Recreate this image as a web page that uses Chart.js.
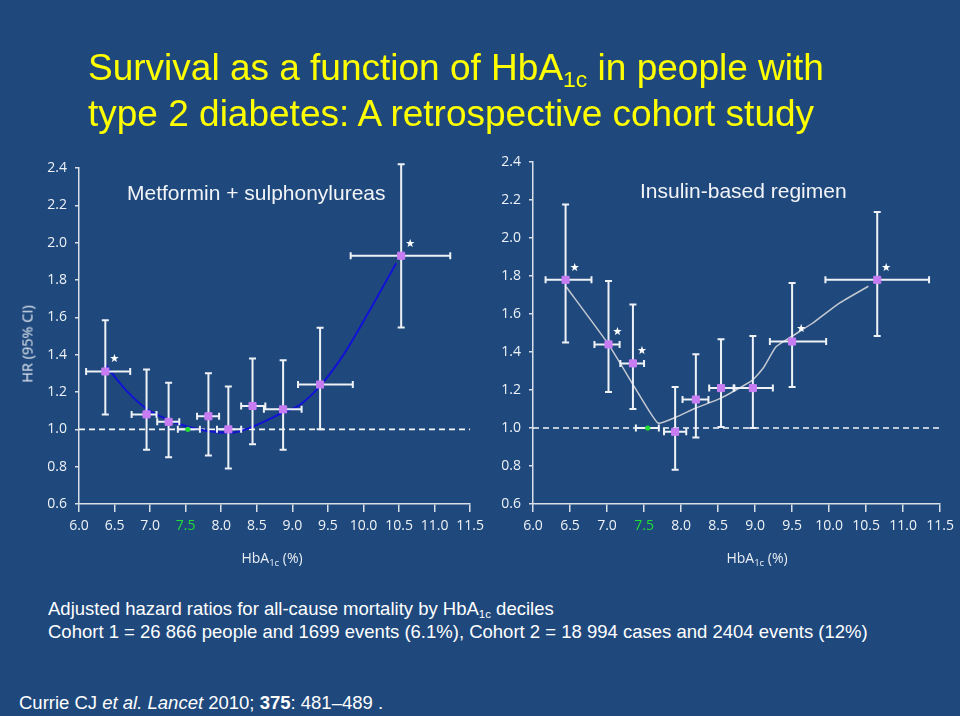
<!DOCTYPE html>
<html><head><meta charset="utf-8">
<script src="https://cdn.jsdelivr.net/npm/chart.js@4.4.1/dist/chart.umd.min.js"></script>
<style>
html,body{margin:0;padding:0;}
body{width:960px;height:716px;background:#1f497d;position:relative;overflow:hidden;font-family:"Liberation Sans",Arial,sans-serif;}
.abs{position:absolute;white-space:nowrap;}
canvas{position:absolute;top:0;}
#title{left:88px;top:47px;font-size:37px;line-height:42px;color:#ffff00;}
.sub{font-size:0.62em;position:relative;top:0.32em;}
.ptitle{font-size:21px;line-height:24px;color:#f2f4f7;}
.axt{font-family:"Open Sans",sans-serif;font-size:14px;color:#e8edf3;transform:translate(-50%,-50%);}
.axt .sub{font-size:0.68em;top:0.3em;}
#hr{left:27px;top:344px;font-family:"Open Sans",sans-serif;font-size:14.5px;color:#e8edf3;transform:translate(-50%,-50%) rotate(-90deg);}
.foot{left:48px;font-size:18.5px;line-height:23px;color:#ffffff;}
.foot .sub{font-size:0.62em;top:0.3em;}
#cite{left:19px;top:691px;font-size:18.5px;line-height:23px;color:#ffffff;}
</style></head>
<body>
<canvas id="left" width="490" height="560" style="left:0;width:490px;height:560px;"></canvas>
<canvas id="right" width="506" height="560" style="left:454px;width:506px;height:560px;"></canvas>

<div id="title" class="abs">Survival as a function of HbA<span class="sub">1c</span> in people with<br>type 2 diabetes: A retrospective cohort study</div>
<div class="abs ptitle" style="left:127px;top:181px;">Metformin + sulphonylureas</div>
<div class="abs ptitle" style="left:640px;top:179px;">Insulin-based regimen</div>
<div id="hr" class="abs">HR (95% CI)</div>
<div class="abs axt" style="left:272px;top:557px;">HbA<span class="sub">1c</span> (%)</div>
<div class="abs axt" style="left:757px;top:557px;">HbA<span class="sub">1c</span> (%)</div>
<div class="abs foot" style="top:597px;">Adjusted hazard ratios for all-cause mortality by HbA<span class="sub">1c</span> deciles</div>
<div class="abs foot" style="top:620px;">Cohort 1 = 26 866 people and 1699 events (6.1%), Cohort 2 = 18 994 cases and 2404 events (12%)</div>
<div id="cite" class="abs">Currie CJ <i>et al.</i> <i>Lancet</i> 2010; <b>375</b>: 481–489 .</div>

<script>
// ---- axes ----
const xTicks = [6.0, 6.5, 7.0, 7.5, 8.0, 8.5, 9.0, 9.5, 10.0, 10.5, 11.0, 11.5];
const yTicks = [0.6, 0.8, 1.0, 1.2, 1.4, 1.6, 1.8, 2.0, 2.2, 2.4];
const refHR = 1.0;          // dashed reference line
const refTick = 7.5;        // highlighted (reference) HbA1c tick

// ---- Metformin + sulphonylureas (deciles) ----
const msHbA1c  = [6.37, 6.95, 7.26, 7.53, 7.82, 8.10, 8.44, 8.87, 9.39, 10.53];
const msHR     = [1.31, 1.08, 1.04, 1.00, 1.07, 1.00, 1.125, 1.107, 1.24, 1.93];
const msHbLow  = [6.10, 6.74, 7.10, 7.39, 7.66, 7.94, 8.28, 8.60, 9.08, 9.82];
const msHbHigh = [6.72, 7.09, 7.41, 7.70, 7.97, 8.28, 8.62, 9.13, 9.85, 11.22];
const msCILow  = [1.08, 0.89, 0.85, null, 0.86, 0.79, 0.92, 0.89, 1.00, 1.545];
const msCIHigh = [1.585, 1.32, 1.25, null, 1.30, 1.23, 1.38, 1.37, 1.544, 2.42];
const msSig    = [1, 0, 0, 0, 0, 0, 0, 0, 0, 1];
const msCurveX = [6.36, 6.66, 6.95, 7.26, 7.53, 7.82, 8.14, 8.44, 8.87, 9.10, 9.40, 9.72, 10.05, 10.46];
const msCurveY = [1.35, 1.21, 1.11, 1.05, 1.014, 0.99, 0.982, 1.014, 1.09, 1.13, 1.237, 1.40, 1.612, 1.89];

// ---- Insulin-based regimen (deciles) ----
const insHbA1c  = [6.44, 7.02, 7.35, 7.55, 7.92, 8.20, 8.54, 8.97, 9.50, 10.65];
const insHR     = [1.78, 1.44, 1.34, 1.00, 0.98, 1.15, 1.21, 1.21, 1.455, 1.78];
const insHbLow  = [6.17, 6.83, 7.18, 7.39, 7.77, 8.02, 8.38, 8.71, 9.20, 9.95];
const insHbHigh = [6.79, 7.17, 7.50, 7.70, 8.07, 8.37, 8.72, 9.24, 9.96, 11.35];
const insCILow  = [1.45, 1.19, 1.10, null, 0.78, 0.95, 1.005, 1.00, 1.216, 1.484];
const insCIHigh = [2.176, 1.774, 1.65, null, 1.216, 1.388, 1.467, 1.484, 1.763, 2.137];
const insSig    = [1, 1, 1, 0, 0, 0, 0, 0, 1, 1];
const insCurveX = [6.45, 7.02, 7.44, 7.69, 7.92, 8.20, 8.54, 8.96, 9.12, 9.28, 9.50, 9.77, 10.13, 10.53];
const insCurveY = [1.742, 1.44, 1.172, 1.026, 1.055, 1.105, 1.157, 1.251, 1.321, 1.426, 1.483, 1.55, 1.655, 1.746];

const BAR = '#eef2f7', AXIS = '#d8dfe8', LABEL = '#eef2f6', GREEN = '#22dd33', PURPLE = '#c77cf2';

function build(id, d, o) {
  const main = [], ref = [];
  d.hb.forEach((x, i) => { (d.ciLo[i] === null ? ref : main).push({x: x, y: d.hr[i]}); });
  const curve = d.cx.map((x, i) => ({x: x, y: d.cy[i]}));
  const refLine = [{x: xTicks[0], y: refHR}, {x: xTicks[xTicks.length - 1], y: refHR}];

  const errPlugin = {
    id: 'err_' + id,
    afterDatasetDraw(chart, args) {
      if (args.index !== 2) return;
      const xs = chart.scales.x, ys = chart.scales.y, c = chart.ctx;
      c.save();
      c.strokeStyle = BAR; c.lineWidth = 2; c.lineCap = 'butt';
      d.hb.forEach((x, i) => {
        const px = xs.getPixelForValue(x), py = ys.getPixelForValue(d.hr[i]);
        const l = xs.getPixelForValue(d.hbLo[i]), r = xs.getPixelForValue(d.hbHi[i]);
        c.beginPath();
        c.moveTo(l, py); c.lineTo(r, py);
        c.moveTo(l, py - 3.5); c.lineTo(l, py + 3.5);
        c.moveTo(r, py - 3.5); c.lineTo(r, py + 3.5);
        if (d.ciLo[i] !== null) {
          const t = ys.getPixelForValue(d.ciHi[i]), b = ys.getPixelForValue(d.ciLo[i]);
          c.moveTo(px, t); c.lineTo(px, b);
          c.moveTo(px - 3.5, t); c.lineTo(px + 3.5, t);
          c.moveTo(px - 3.5, b); c.lineTo(px + 3.5, b);
        }
        c.stroke();
      });
      c.restore();
    },
    afterDatasetsDraw(chart) {
      const xs = chart.scales.x, ys = chart.scales.y, c = chart.ctx;
      c.save();
      c.fillStyle = '#ffffff'; c.font = '11px "DejaVu Sans"';
      c.textAlign = 'center'; c.textBaseline = 'middle';
      d.hb.forEach((x, i) => {
        if (!d.sig[i]) return;
        c.fillText('\u2605', xs.getPixelForValue(x) + 9, ys.getPixelForValue(d.hr[i]) - 12);
      });
      c.restore();
    }
  };

  return new Chart(document.getElementById(id), {
    type: 'line',
    data: {
      datasets: [
        {data: main, showLine: false, pointStyle: 'rect', pointRadius: 5, pointBackgroundColor: PURPLE,
         pointBorderColor: PURPLE, pointBorderWidth: 1, order: 0},
        {data: ref, showLine: false, pointStyle: 'circle', pointRadius: 2.6, pointBackgroundColor: GREEN,
         pointBorderColor: GREEN, pointBorderWidth: 0, order: 1},
        {data: curve, borderColor: o.curveColor, borderWidth: o.curveWidth, pointRadius: 0,
         tension: o.tension, cubicInterpolationMode: o.mode, fill: false, order: 2},
        {data: refLine, borderColor: '#f4f6f9', borderWidth: 1.6, borderDash: [6, 4], pointRadius: 0, order: 3}
      ]
    },
    options: {
      responsive: false, animation: false, devicePixelRatio: 1, events: [],
      layout: {padding: {left: 0, top: o.padTop, right: o.padRight, bottom: 16}},
      plugins: {legend: {display: false}, tooltip: {enabled: false}},
      scales: {
        x: {
          type: 'linear', min: xTicks[0], max: xTicks[xTicks.length - 1],
          afterBuildTicks: s => { s.ticks = xTicks.map(v => ({value: v})); },
          afterFit: s => { s.height = 40; },
          grid: {drawOnChartArea: false, drawTicks: true, tickLength: 8, color: AXIS, lineWidth: 1.5},
          border: {display: true, color: AXIS, width: 1.5},
          ticks: {autoSkip: false, maxRotation: 0, padding: 6,
                  font: {family: 'Open Sans', size: 14},
                  color: ctx => (ctx.tick && ctx.tick.value === refTick) ? GREEN : LABEL,
                  callback: v => Number(v).toFixed(1)}
        },
        y: {
          type: 'linear', min: yTicks[0], max: yTicks[yTicks.length - 1],
          afterBuildTicks: s => { s.ticks = yTicks.map(v => ({value: v})); },
          afterFit: s => { s.width = 79; },
          grid: {drawOnChartArea: false, drawTicks: true, tickLength: 4, color: AXIS, lineWidth: 1.5},
          border: {display: true, color: AXIS, width: 1.5},
          ticks: {padding: 8, font: {family: 'Open Sans', size: 14}, color: LABEL,
                  callback: v => Number(v).toFixed(1)}
        }
      }
    },
    plugins: [errPlugin]
  });
}

build('left', {hb: msHbA1c, hr: msHR, hbLo: msHbLow, hbHi: msHbHigh, ciLo: msCILow, ciHi: msCIHigh,
               sig: msSig, cx: msCurveX, cy: msCurveY},
      {curveColor: '#1212d6', curveWidth: 2, tension: 0.4, mode: 'monotone', padTop: 168, padRight: 16});
build('right', {hb: insHbA1c, hr: insHR, hbLo: insHbLow, hbHi: insHbHigh, ciLo: insCILow, ciHi: insCIHigh,
                sig: insSig, cx: insCurveX, cy: insCurveY},
      {curveColor: '#c4c8d0', curveWidth: 1.5, tension: 0.15, mode: 'default', padTop: 162, padRight: 18});
</script>
</body></html>
